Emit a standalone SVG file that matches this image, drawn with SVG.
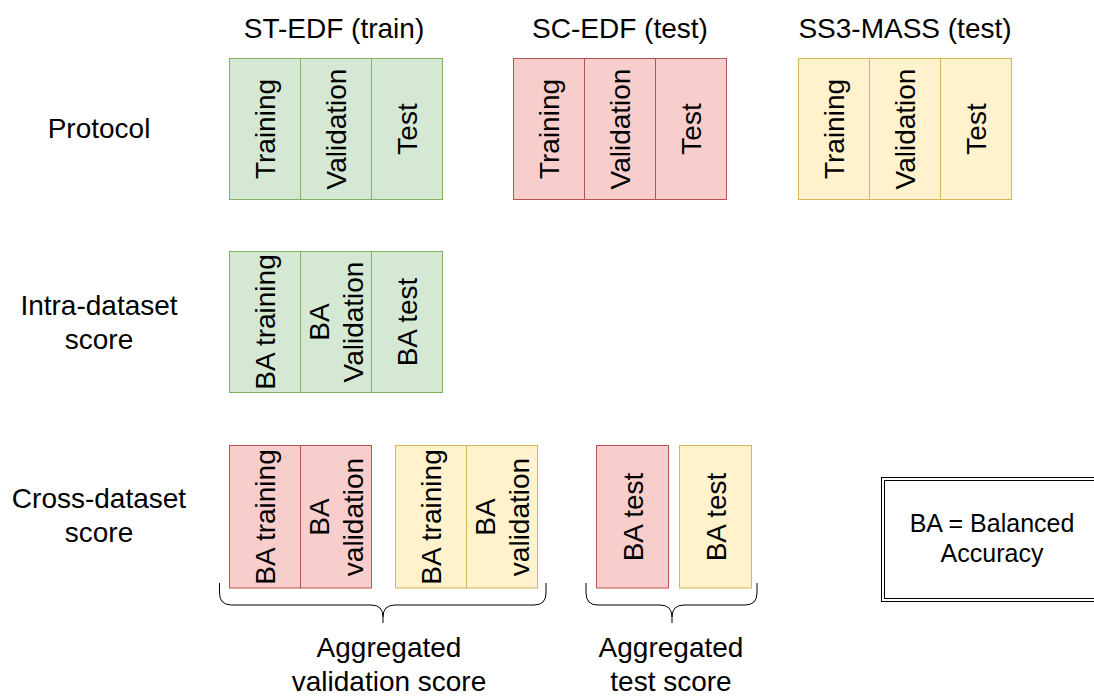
<svg xmlns="http://www.w3.org/2000/svg" width="1094" height="696" viewBox="0 0 1094 696">
  <style>
    text { font-family: "Liberation Sans", Arial, Helvetica, sans-serif; font-size: 28px; fill: #000; text-anchor: middle; }
    .legend { font-size: 25px; }
    .g { fill: #d5e8d4; stroke: #82b366; stroke-width: 1; }
    .r { fill: #f8cecc; stroke: #b85450; stroke-width: 1; }
    .y { fill: #fff2cc; stroke: #d6b656; stroke-width: 1; }
    .brace { fill: none; stroke: #000; stroke-width: 1; }
    .frame { fill: none; stroke: #000; stroke-width: 1; }
  </style>
  <rect width="1094" height="696" fill="#fff"/>

  <!-- column titles -->
  <g id="titles">
    <text x="334" y="38">ST-EDF (train)</text>
    <text x="620" y="38">SC-EDF (test)</text>
    <text x="905" y="38">SS3-MASS (test)</text>
  </g>

  <!-- row labels -->
  <g id="row-labels">
    <text x="99" y="138">Protocol</text>
    <text x="99" y="315">Intra-dataset<tspan x="99" y="349">score</tspan></text>
    <text x="99" y="508">Cross-dataset<tspan x="99" y="542">score</tspan></text>
  </g>

  <!-- protocol splits -->
  <g id="protocol-st-edf">
    <rect class="g" x="229.5" y="58.5" width="71" height="141"/>
    <rect class="g" x="300.5" y="58.5" width="71" height="141"/>
    <rect class="g" x="371.5" y="58.5" width="71" height="141"/>
    <text transform="translate(265,129) rotate(-90)" y="10">Training</text>
    <text transform="translate(336,129) rotate(-90)" y="10">Validation</text>
    <text transform="translate(407,129) rotate(-90)" y="10">Test</text>
  </g>
  <g id="protocol-sc-edf">
    <rect class="r" x="513.5" y="58.5" width="71" height="141"/>
    <rect class="r" x="584.5" y="58.5" width="71" height="141"/>
    <rect class="r" x="655.5" y="58.5" width="71" height="141"/>
    <text transform="translate(549,129) rotate(-90)" y="10">Training</text>
    <text transform="translate(620,129) rotate(-90)" y="10">Validation</text>
    <text transform="translate(691,129) rotate(-90)" y="10">Test</text>
  </g>
  <g id="protocol-ss3-mass">
    <rect class="y" x="798.5" y="58.5" width="71" height="141"/>
    <rect class="y" x="869.5" y="58.5" width="71" height="141"/>
    <rect class="y" x="940.5" y="58.5" width="71" height="141"/>
    <text transform="translate(834,129) rotate(-90)" y="10">Training</text>
    <text transform="translate(905,129) rotate(-90)" y="10">Validation</text>
    <text transform="translate(976,129) rotate(-90)" y="10">Test</text>
  </g>

  <!-- intra-dataset scores -->
  <g id="intra-st-edf">
    <rect class="g" x="229.5" y="251.5" width="71" height="141"/>
    <rect class="g" x="300.5" y="251.5" width="71" height="141"/>
    <rect class="g" x="371.5" y="251.5" width="71" height="141"/>
    <text transform="translate(265,322) rotate(-90)" y="10">BA training</text>
    <text transform="translate(336,322) rotate(-90)"><tspan x="0" y="-7">BA</tspan><tspan x="0" y="27">Validation</tspan></text>
    <text transform="translate(407,322) rotate(-90)" y="10">BA test</text>
  </g>

  <!-- cross-dataset scores -->
  <g id="cross-sc-edf-val">
    <rect class="r" x="229.5" y="445.5" width="71" height="142.5"/>
    <rect class="r" x="300.5" y="445.5" width="71" height="142.5"/>
    <text transform="translate(265,517) rotate(-90)" y="10">BA training</text>
    <text transform="translate(336,517) rotate(-90)"><tspan x="0" y="-7">BA</tspan><tspan x="0" y="27">validation</tspan></text>
  </g>
  <g id="cross-ss3-mass-val">
    <rect class="y" x="395.5" y="445.5" width="71" height="142.5"/>
    <rect class="y" x="466.5" y="445.5" width="71" height="142.5"/>
    <text transform="translate(431,517) rotate(-90)" y="10">BA training</text>
    <text transform="translate(502,517) rotate(-90)"><tspan x="0" y="-7">BA</tspan><tspan x="0" y="27">validation</tspan></text>
  </g>
  <g id="cross-sc-edf-test">
    <rect class="r" x="596.5" y="445.5" width="72" height="142.5"/>
    <text transform="translate(632.5,517) rotate(-90)" y="10">BA test</text>
  </g>
  <g id="cross-ss3-mass-test">
    <rect class="y" x="679.5" y="445.5" width="72" height="142.5"/>
    <text transform="translate(715.5,517) rotate(-90)" y="10">BA test</text>
  </g>

  <!-- braces grouping the cross-dataset scores -->
  <g id="connectors">
    <path class="brace" d="M219.5,583 L219.5,593 Q219.5,605 231.5,605 L371,605 Q383,605 383,617 L383,623 M383,617 Q383,605 395,605 L534,605 Q546,605 546,593 L546,583"/>
    <path class="brace" d="M586,583 L586,593 Q586,605 598,605 L660,605 Q672,605 672,617 L672,623 M672,617 Q672,605 684,605 L745,605 Q757,605 757,593 L757,583"/>
  </g>

  <!-- brace labels -->
  <g id="aggregate-labels">
    <text x="389" y="657">Aggregated<tspan x="389" y="691">validation score</tspan></text>
    <text x="671" y="657">Aggregated<tspan x="671" y="691">test score</tspan></text>
  </g>

  <!-- legend -->
  <g id="legend">
    <rect class="frame" x="881.5" y="477.5" width="222" height="124" fill="#fff"/>
    <rect class="frame" x="884.5" y="480.5" width="216" height="118"/>
    <text class="legend" x="992" y="532">BA = Balanced<tspan x="992" y="562">Accuracy</tspan></text>
  </g>
</svg>
